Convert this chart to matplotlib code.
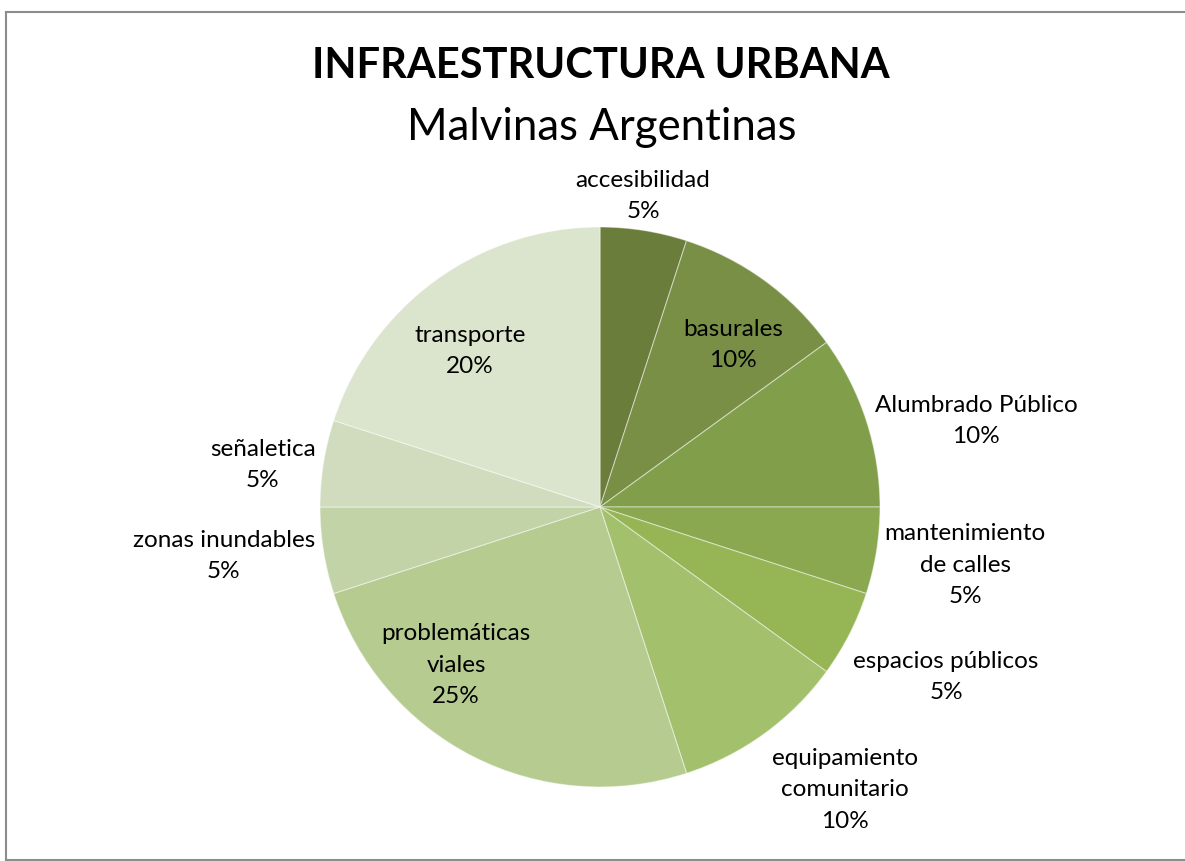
import matplotlib
matplotlib.use("Agg")
import matplotlib.pyplot as plt
from matplotlib.lines import Line2D

categorias = ["accesibilidad", "basurales", "Alumbrado Público", "mantenimiento\nde calles",
              "espacios públicos", "equipamiento\ncomunitario", "problemáticas\nviales",
              "zonas inundables", "señaletica", "transporte"]
porcentajes = [5, 10, 10, 5, 5, 10, 25, 5, 5, 20]
colores = ["#6a7d3b", "#788f45", "#819f4b", "#8aa84f", "#96b555",
           "#a3c06d", "#b6cb90", "#c3d3a8", "#d0dcbd", "#dbe4cc"]

# posiciones de las etiquetas (en radios del pastel)
pos_etiquetas = [(0.154, 1.114), (0.475, 0.582), (1.343, 0.311), (1.304, -0.204),
                 (1.236, -0.604), (0.875, -1.007), (-0.514, -0.561), (-1.343, -0.171),
                 (-1.204, 0.154), (-0.464, 0.561)]

plt.rcParams['font.family'] = ['Lato', 'DejaVu Sans']

W, H = 1185, 862
fig = plt.figure(figsize=(W / 100, H / 100), dpi=100)
cx, cy, r = 600, 508, 280
ax = fig.add_axes([(cx - r) / W, (H - cy - r) / H, 2 * r / W, 2 * r / H])

ax.pie(porcentajes, colors=colores, startangle=90, counterclock=False,
       wedgeprops=dict(edgecolor=(1, 1, 1, 0.45), linewidth=0.8))
ax.set_xlim(-1, 1)
ax.set_ylim(-1, 1)
ax.set_aspect('equal')
ax.axis('off')

for cat, val, (x, y) in zip(categorias, porcentajes, pos_etiquetas):
    ax.text(x, y, f"{cat}\n{val}%", ha='center', va='center', fontsize=17.5,
            linespacing=1.62, color='black', clip_on=False)

fig.text(601 / W, 1 - 66 / H, "INFRAESTRUCTURA URBANA", ha='center', va='center',
         fontsize=30, fontweight='bold')
fig.text(602 / W, 1 - 127 / H, "Malvinas Argentinas", ha='center', va='center',
         fontsize=31.5)

# borde del gráfico
gris = '#8c8c8c'
fig.add_artist(Line2D([6 / W, 6 / W], [1 - 13 / H, 1 - 861 / H], color=gris, lw=1.5))
fig.add_artist(Line2D([6 / W, 1], [1 - 13 / H, 1 - 13 / H], color=gris, lw=1.5))
fig.add_artist(Line2D([6 / W, 1], [1 - 860.5 / H, 1 - 860.5 / H], color=gris, lw=1.5))

fig.savefig("out.png", dpi=100)
